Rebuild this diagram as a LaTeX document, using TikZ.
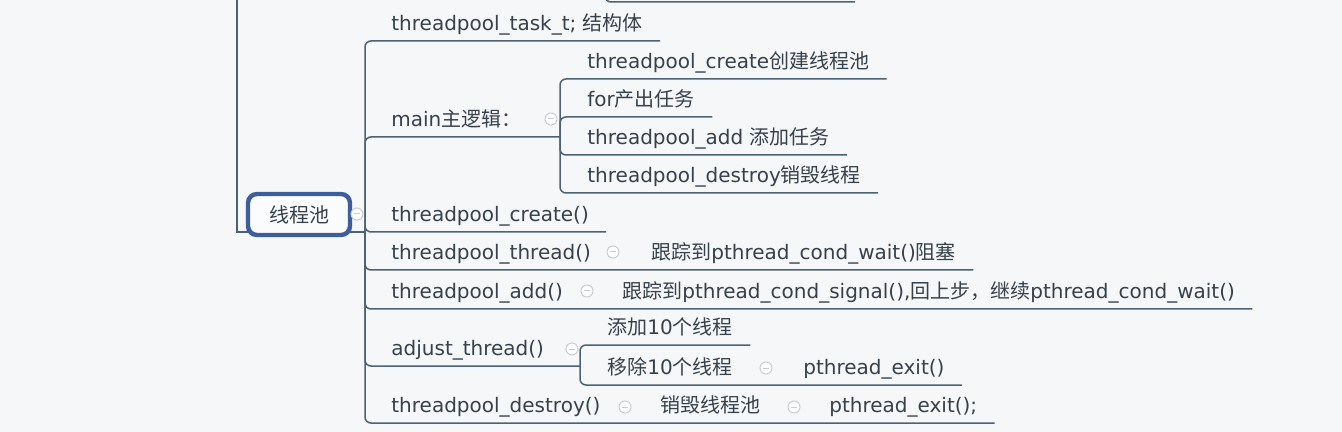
\documentclass[tikz,border=0pt]{standalone}
\usepackage{fontspec}
\setmainfont{DejaVu Sans}
\newfontfamily\cjk{Noto Sans CJK SC}
\usepackage{tikz}
\usetikzlibrary{positioning}

\definecolor{bgpaper}{HTML}{F6F7F9}
\definecolor{linecol}{HTML}{4B6275}
\definecolor{txtcol}{HTML}{37414B}
\definecolor{rootblue}{HTML}{3D5E9C}
\definecolor{foldgray}{HTML}{C9CED4}

\tikzset{
  branch/.style={draw=linecol, line width=0.75pt, rounded corners=3pt},
  topic/.style={anchor=south west, inner xsep=0pt, inner ysep=3pt,
                text height=7.5pt, text depth=2pt, text=txtcol,
                font=\fontsize{10pt}{12pt}\selectfont},
  fold/.style={circle, draw=foldgray, fill=white, line width=0.5pt,
               minimum size=6pt, inner sep=0pt,
               path picture={\draw[foldgray, line width=0.5pt]
                 ([xshift=1.4pt]path picture bounding box.west) --
                 ([xshift=-1.4pt]path picture bounding box.east);}},
  rootbox/.style={draw=rootblue, line width=2.2pt, rounded corners=4.5pt,
                  fill=white!60!bgpaper, minimum width=51pt, minimum height=20.5pt,
                  text=txtcol, font=\fontsize{10pt}{12pt}\selectfont\cjk}
}

\begin{document}
\begin{tikzpicture}[x=0.5pt, y=-0.5pt]
    \fill[bgpaper] (0,0) rectangle (1342,432);
    \useasboundingbox (0,0) rectangle (1342,432);

    % joints
    \coordinate (hub) at (365,232);
    \coordinate (mainhub) at (560,137);
    \coordinate (adjhub) at (580,366);
    \coordinate (uptop) at (237,-5);
    \coordinate (prevtop) at (605,-8);
    \coordinate (prevend) at (855,2);

    % topics
    \node[topic] (task) at (391,41) {threadpool\_task\_t; {\cjk 结构体}};
    \node[topic] (mainlogic) at (391,137) {main{\cjk 主逻辑：}};
    \node[topic] (mcreate) at (587,79) {threadpool\_create{\cjk 创建线程池}};
    \node[topic] (mfor) at (587,117) {for{\cjk 产出任务}};
    \node[topic] (madd) at (587,155) {threadpool\_add {\cjk 添加任务}};
    \node[topic] (mdestroy) at (587,193) {threadpool\_destroy{\cjk 销毁线程}};
    \node[topic] (create) at (391,232) {threadpool\_create()};
    \node[topic] (thread) at (391,270) {threadpool\_thread()};
    \node[topic] (waitnote) at (651,270) {{\cjk 跟踪到}pthread\_cond\_wait(){\cjk 阻塞}};
    \node[topic] (add) at (391,309) {threadpool\_add()};
    \node[topic] (signalnote) at (622,309) {{\cjk 跟踪到}pthread\_cond\_signal(),{\cjk 回上步，继续}pthread\_cond\_wait()};
    \node[topic] (adjust) at (391,366) {adjust\_thread()};
    \node[topic] (addten) at (607,345) {{\cjk 添加}10{\cjk 个线程}};
    \node[topic] (delten) at (607,385) {{\cjk 移除}10{\cjk 个线程}};
    \node[topic] (exitone) at (803,385) {pthread\_exit()};
    \node[topic] (destroy) at (391,423) {threadpool\_destroy()};
    \node[topic] (destroynote) at (660,423) {{\cjk 销毁线程池}};
    \node[topic] (exittwo) at (829,423) {pthread\_exit();};

    % branches
    \draw[branch, rounded corners=0pt] (uptop) |- (hub);
    \draw[branch] (prevtop) |- (prevend);
    \foreach \t in {task, create, waitnote, signalnote, exittwo}
      \draw[branch] (hub) |- ([xshift=8.5pt]\t.south east);
    \draw[branch] (hub) |- (mainhub);
    \draw[branch] (hub) |- (adjhub);
    \foreach \t in {mcreate, mfor, madd, mdestroy}
      \draw[branch] (mainhub) |- ([xshift=8.5pt]\t.south east);
    \foreach \t in {addten, exitone}
      \draw[branch] (adjhub) |- ([xshift=8.5pt]\t.south east);

    % root
    \node[rootbox] (root) at (299,214.5) {线程池};

    % fold buttons
    \node[fold] (f0) at (357,214) {};
    \node[fold] (f1) at (551,119) {};
    \node[fold] (f2) at (613,252) {};
    \node[fold] (f3) at (587,291) {};
    \node[fold] (f4) at (572,349) {};
    \node[fold] (f5) at (766,368) {};
    \node[fold] (f6) at (625,407) {};
    \node[fold] (f7) at (794,407) {};
\end{tikzpicture}
\end{document}
